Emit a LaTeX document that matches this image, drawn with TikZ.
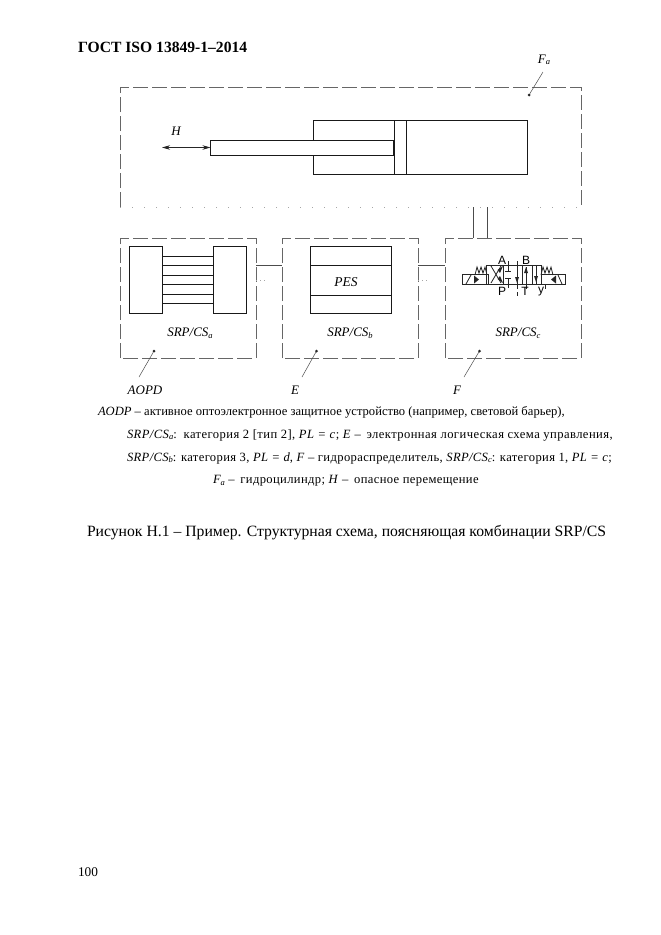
\documentclass[tikz,border=0pt]{standalone}
\usepackage{fontspec}
\setmainfont{Liberation Serif}
\newfontfamily\valvefont{Liberation Sans}
\usetikzlibrary{arrows.meta}
\newcommand\sbs[1]{\raisebox{-0.25ex}{\fontsize{8.5}{9}\selectfont #1}}
\newcommand\srp[1]{\textit{SRP/CS\sbs{#1}}}
\tikzset{
  every node/.style={inner sep=0pt,outer sep=0pt},
  dashline/.style={draw=black!60,line width=0.8pt,dash pattern=on 15pt off 4pt},
  faintline/.style={draw=black!35,line width=0.6pt,dash pattern=on 1pt off 11pt},
  solidbox/.style={draw=black!90,line width=1pt},
  wire/.style={draw=black!70,line width=0.7pt},
  heavy/.style={draw=black!90,line width=1pt},
  leader/.style={draw=black!70,line width=0.5pt},
  dotend/.style={circle,fill=black!85,minimum size=3pt},
  diagtext/.style={font=\fontsize{13}{15}\selectfont\itshape},
  bodytext/.style={anchor=west,font=\fontsize{12.6}{14}\selectfont},
  valveline/.style={draw=black!85,line width=0.8pt},
  valvetext/.style={font=\fontsize{12}{13}\valvefont\selectfont}
}
\begin{document}
\begin{tikzpicture}[x=1pt,y=-1pt]
\useasboundingbox (0,0) rectangle (661,935);
\fill[white] (0,0) rectangle (661,935);
% header and footer
\node[anchor=west,font=\fontsize{15.6}{17}\selectfont\bfseries] (title) at (78,47.5) {ГОСТ ISO 13849-1–2014};
\node[anchor=west,font=\fontsize{13.3}{15}\selectfont] (pageno) at (78,872) {100};
% frames
\node[minimum width=461pt,minimum height=120pt] (fa) at (350.5,147) {};
\node[minimum width=136pt,minimum height=120pt] (boxa) at (188,298) {};
\node[minimum width=136pt,minimum height=120pt] (boxb) at (350,298) {};
\node[minimum width=136pt,minimum height=120pt] (boxc) at (513,298) {};
\draw[dashline] (fa.south west) -- (fa.north west) -- (fa.north east) -- (fa.south east);
\draw[faintline] (fa.south west) -- (fa.south east);
\foreach \b in {boxa,boxb,boxc}
  \draw[dashline] (\b.south west) -- (\b.north west) -- (\b.north east) -- (\b.south east) -- cycle;
% cylinder
\node[solidbox,minimum width=214pt,minimum height=54.5pt] (cyl) at (420,147.7) {};
\node[solidbox,minimum width=12pt,minimum height=54.5pt] (piston) at (400,147.7) {};
\node[solidbox,fill=white,minimum width=183.5pt,minimum height=15pt] (rod) at (302.2,147.5) {};
\coordinate (hend) at (162,147.5);
\draw[draw=black!85,line width=0.7pt,{Stealth[length=8pt,width=4.5pt]}-{Stealth[length=8pt,width=4.5pt]}] (hend) -- (rod.west);
\node[diagtext] (hlabel) at (176,131) {H};
% links between frames
\coordinate (la) at (473,207); \coordinate (lb) at (487,207);
\draw[wire] (la) -- (la |- boxc.north);
\draw[wire] (lb) -- (lb |- boxc.north);
\coordinate (ab) at (256,265); \coordinate (bc) at (418,265);
\draw[wire] (ab) -- (ab -| boxb.west);
\draw[wire] (bc) -- (bc -| boxc.west);
\draw[faintline,dash pattern=on 1pt off 3pt] (256,280) -- (265,280);
\draw[faintline,dash pattern=on 1pt off 3pt] (418,280) -- (427,280);
% light barrier
\node[heavy,minimum width=33pt,minimum height=67pt] (emit) at (145.5,279.5) {};
\node[heavy,minimum width=33pt,minimum height=67pt] (recv) at (229.5,279.5) {};
\foreach \yy in {256,265.6,275,284.5,294,303.6}
  \draw[heavy] (emit.east |- 0,\yy) -- (recv.west |- 0,\yy);
% PES
\node[heavy,minimum width=81pt,minimum height=67pt] (pes) at (350.5,279.5) {};
\draw[heavy] (pes.west |- 0,265) -- (pes.east |- 0,265);
\draw[heavy] (pes.west |- 0,295) -- (pes.east |- 0,295);
\node[diagtext,font=\fontsize{13.5}{15}\selectfont\itshape] (peslabel) at (346,282) {PES};
% valve
\node[valveline,minimum width=55pt,minimum height=19pt] (vmain) at (513.5,274.5) {};
\node[valveline,minimum width=26pt,minimum height=9.5pt] (vleft) at (475,279.2) {};
\node[valveline,minimum width=24pt,minimum height=9.5pt] (vright) at (553,279.2) {};
\begin{scope}[valveline]
\draw (503,265) -- (503,284); \draw (522,265) -- (522,284); \draw (532,265) -- (532,284);
% crossing arrows
\draw (491,266) -- (501,283); \draw (501,266) -- (491,283);
\fill[black!85] (497.5,270) -- (503,266) -- (500,273) -- cycle;
\fill[black!85] (497.5,279) -- (503,283) -- (500,276) -- cycle;
% closed ports
\draw (508,261) -- (508,271); \draw (505,271) -- (511,271);
\draw (508,288) -- (508,278); \draw (505,278) -- (511,278);
% flow arrows
\draw (517,261) -- (517,289);
\fill[black!85] (517,283) -- (515,277) -- (519,277) -- cycle;
\draw (526,267) -- (526,289);
\fill[black!85] (526,267) -- (524,273) -- (528,273) -- cycle;
\draw (536,266) -- (536,284);
\fill[black!85] (536,282) -- (534,276) -- (538,276) -- cycle;
% solenoids and springs
\draw (466,284) -- (471,275);
\fill[black!85] (479,279.5) -- (474,275.5) -- (474,283.5) -- cycle;
\draw (475,275) -- (477,267) -- (479,273) -- (481,267) -- (483,273) -- (485,267) -- (487,275);
\draw (562,284) -- (558,275);
\fill[black!85] (551,279.5) -- (556,275.5) -- (556,283.5) -- cycle;
\draw (541,275) -- (543,267) -- (545,273) -- (547,267) -- (549,273) -- (551,267) -- (553,275);
\draw (517,292) -- (517,296);
\draw (545,284) -- (545,289);
\end{scope}
\node[valvetext] (va) at (502,260) {A};
\node[valvetext] (vb) at (526,260) {B};
\node[valvetext] (vp) at (502,291.5) {P};
\node[valvetext] (vt) at (525,291.5) {T};
\node[valvetext] (vy) at (541,292) {y};
% subsystem labels
\node[diagtext] (sa) at (190,333) {\srp{a}};
\node[diagtext] (sb) at (350,333) {\srp{b}};
\node[diagtext] (sc) at (518,333) {\srp{c}};
% leaders
\node[dotend] (da) at (154,351) {};
\node[dotend] (db) at (316.5,351) {};
\node[dotend] (dc) at (479.5,351) {};
\node[dotend] (df) at (529,95) {};
\node[diagtext] (laopd) at (145,390) {AOPD};
\node[diagtext] (le) at (295,390) {E};
\node[diagtext] (lf) at (457,390) {F};
\node[diagtext] (lfa) at (544,60) {F\sbs{a}};
\coordinate (ea) at (139,377); \coordinate (eb) at (302,377); \coordinate (ec) at (464,377); \coordinate (ef) at (543,72);
\draw[leader] (da) -- (ea);
\draw[leader] (db) -- (eb);
\draw[leader] (dc) -- (ec);
\draw[leader] (df) -- (ef);
% legend
\node[bodytext] (t1) at (98,412) {\textit{AODP} – активное оптоэлектронное защитное устройство (например, световой барьер),};
\node[bodytext] (t2) at (127,435) {\addfontfeature{LetterSpace=3.4}\srp{a}:\, категория 2 [тип 2], \textit{PL = c}; \textit{E} –\, электронная логическая схема управления,};
\node[bodytext] (t3) at (127,458) {\addfontfeature{LetterSpace=2.8}\srp{b}: категория 3, \textit{PL = d}, \textit{F} – гидрораспределитель, \srp{c}: категория 1, \textit{PL = c};};
\node[bodytext] (t4) at (213,481) {\addfontfeature{LetterSpace=2.9}\textit{F\sbs{a}} –\, гидроцилиндр; \textit{H} –\, опасное перемещение};
\node[anchor=west,font=\fontsize{15.7}{17}\selectfont] (cap) at (87,533) {Рисунок Н.1 – Пример. Структурная схема, поясняющая комбинации SRP/CS};
\end{tikzpicture}
\end{document}
